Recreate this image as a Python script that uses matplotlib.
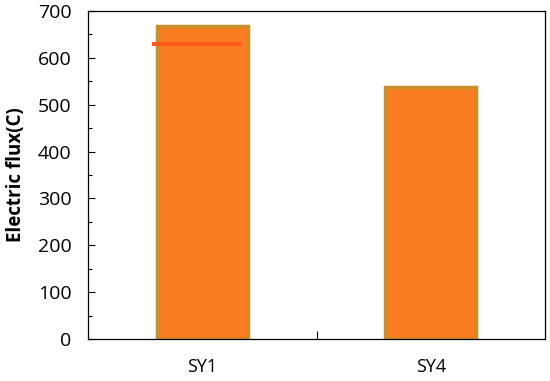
import matplotlib
matplotlib.use("Agg")
import matplotlib.pyplot as plt
from matplotlib.ticker import MultipleLocator

categories = ["SY1", "SY4"]
electric_flux = [667, 537]
sy1_line = 630

plt.rcParams['font.family'] = ['Open Sans', 'DejaVu Sans']

fig = plt.figure(figsize=(5.5, 3.81), dpi=100)
ax = fig.add_axes([88/550, 1-339/381, (545-88)/550, (339-11)/381])

x = list(range(len(categories)))
ax.bar(x, electric_flux, width=0.4, color="#fb7d22", edgecolor="#c8902a", linewidth=2.5)
ax.hlines(sy1_line, x[0]-0.22, x[0]+0.17, colors="#ff5a1e", linewidth=3)

ax.set_xlim(-0.5, 1.5)
ax.set_ylim(0, 700)
ax.set_xticks(x)
ax.set_xticklabels(categories, fontsize=13)
ax.set_xticks([0.5], minor=True)
ax.tick_params(axis='x', which='major', length=0, pad=14)
ax.tick_params(axis='x', which='minor', direction='in', length=6, width=0.8)
ax.yaxis.set_major_locator(MultipleLocator(100))
ax.yaxis.set_minor_locator(MultipleLocator(50))
ax.tick_params(axis='y', which='both', direction='in', width=0.8)
ax.tick_params(axis='y', which='major', length=5, labelsize=14, pad=12)
ax.tick_params(axis='y', which='minor', length=3)
ax.set_ylabel("Electric flux(C)", fontsize=13.5, fontweight='bold', labelpad=8)
for s in ax.spines.values():
    s.set_linewidth(0.9)

fig.savefig("out.png", dpi=100)
